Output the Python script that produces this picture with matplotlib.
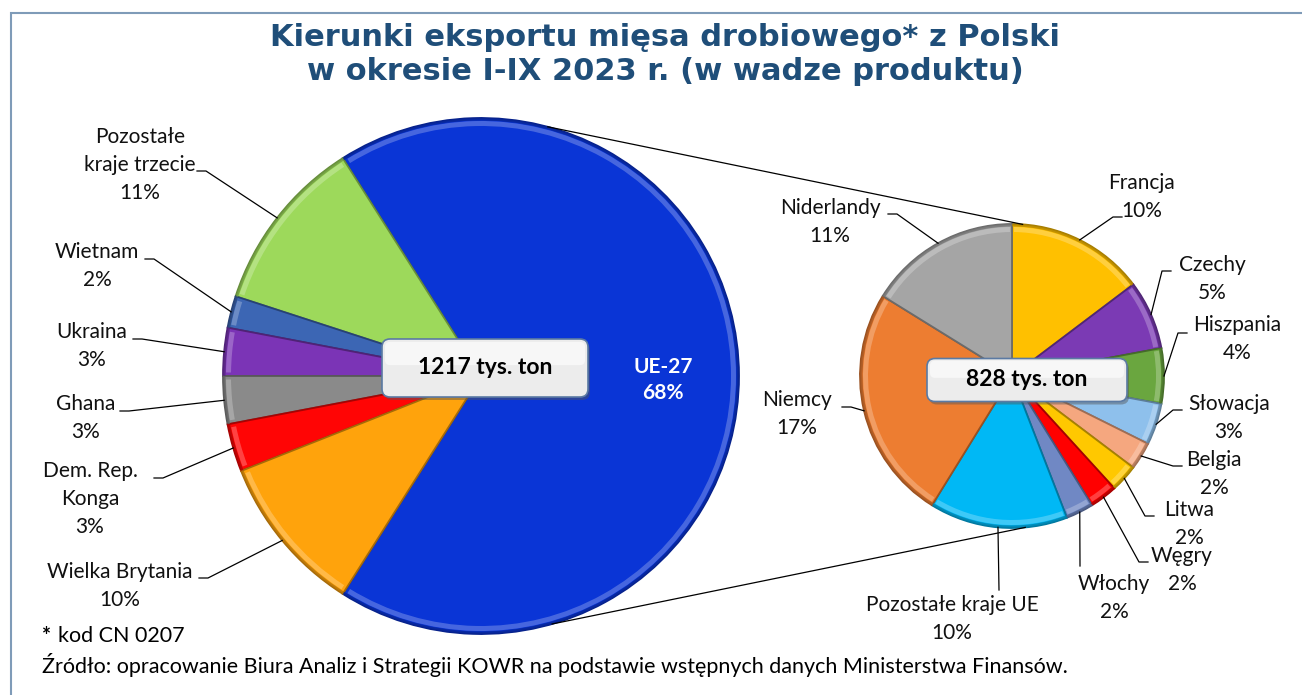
import matplotlib.pyplot as plt
import matplotlib.colors as mcolors
from matplotlib.patches import FancyBboxPatch, Wedge, Rectangle
import numpy as np

W, H = 1302, 695

# left pie - total poultry meat exports, % share
left_names = ["UE-27", "Pozostałe\nkraje trzecie", "Wietnam", "Ukraina", "Ghana",
              "Dem. Rep.\nKonga", "Wielka Brytania"]
left_vals = [68, 11, 2, 3, 3, 3, 10]
left_colors = ["#0a35d6", "#9dd95b", "#3c66b4", "#7b34b6", "#8a8a8a", "#ff0505", "#ffa30c"]
left_total = "1217 tys. ton"

# right pie - UE-27 split, % of total
right_names = ["Francja", "Czechy", "Hiszpania", "Słowacja", "Belgia", "Litwa", "Węgry",
               "Włochy", "Pozostałe kraje UE", "Niemcy", "Niderlandy"]
right_vals = [10, 5, 4, 3, 2, 2, 2, 2, 10, 17, 11]
right_colors = ["#ffc000", "#7b3ab4", "#6aa63f", "#8ec0ec", "#f5a77f", "#ffc800", "#ff0000",
                "#7088c4", "#00b8f5", "#ed7d31", "#a5a5a5"]
right_total = "828 tys. ton"

title1 = "Kierunki eksportu mięsa drobiowego* z Polski"
title2 = "w okresie I-IX 2023 r. (w wadze produktu)"
note1 = "kod CN 0207"
note2 = ("Źródło: opracowanie Biura Analiz i Strategii KOWR na podstawie wstępnych "
         "danych Ministerstwa Finansów.")

# layout (pixel coords, y from top): label centre, leader attach point, stub direction
left_layout = {
    "Pozostałe\nkraje trzecie": ((140, 165), (197, 171), 1),
    "Wietnam": ((97, 266), (145, 259), 1),
    "Ukraina": ((92, 346), (133, 339), 1),
    "Ghana": ((86, 418), (120, 411), 1),
    "Dem. Rep.\nKonga": ((90, 499), (154, 478), 1),
    "Wielka Brytania": ((120, 586), (199, 578), 1),
}
right_layout = {
    "Francja": ((1142, 197), (1122, 217), -1),
    "Czechy": ((1212, 279), (1171, 271), -1),
    "Hiszpania": ((1237, 339), (1187, 333), -1),
    "Słowacja": ((1229, 418), (1182, 410), -1),
    "Belgia": ((1214, 474), (1182, 466), -1),
    "Litwa": ((1189, 524), (1154, 516), -1),
    "Węgry": ((1182, 570), (1148, 562), -1),
    "Włochy": ((1114, 598), (1080, 566), 0),
    "Pozostałe kraje UE": ((952, 619), (999, 590), 0),
    "Niemcy": ((797, 414), (842, 407), 1),
    "Niderlandy": ((830, 222), (888, 214), 1),
}

LC, LR = (481, 376), 258
RC, RR = (1012, 376), 152

FONT = ["Lato", "DejaVu Sans"]


def P(x, y):
    return x, H - y


def mix(c, other, t):
    a = np.array(mcolors.to_rgb(c))
    b = np.array(mcolors.to_rgb(other))
    return tuple(a * (1 - t) + b * t)


fig = plt.figure(figsize=(W / 100, H / 100), dpi=100)
ax = fig.add_axes([0, 0, 1, 1])


def draw_pie(vals, colors, center, r, start, ccw):
    wedges, _ = ax.pie(vals, colors=colors, startangle=start, counterclock=ccw,
                       center=P(*center), radius=r,
                       wedgeprops=dict(edgecolor="none"))
    for w, c in zip(wedges, colors):
        w.set_edgecolor(mix(c, "black", 0.35))
        w.set_linewidth(1.3)
        # bevel-ish rim highlight
        ax.add_patch(Wedge(w.center, r - 3, w.theta1 + 0.8, w.theta2 - 0.8, width=5,
                           facecolor=mix(c, "white", 0.35), edgecolor="none", alpha=0.7))
        ax.add_patch(Wedge(w.center, r, w.theta1, w.theta2, width=2.5,
                           facecolor=mix(c, "black", 0.3), edgecolor="none", alpha=0.8))
    return wedges


def leaders(wedges, names, vals, layout, center, r):
    for w, name, v in zip(wedges, names, vals):
        if name not in layout:
            continue
        (tx, ty), (lx, ly), d = layout[name]
        mid = np.radians((w.theta1 + w.theta2) / 2)
        rx = w.center[0] + r * np.cos(mid)
        ry = w.center[1] + r * np.sin(mid)
        xs = [lx, lx + 9 * d, rx]
        ys = [H - ly, H - ly, ry]
        ax.plot(xs, ys, color="black", lw=0.9, zorder=5)
        ax.text(*P(tx, ty), f"{name}\n{v}%", ha="center", va="center", fontsize=15,
                family=FONT, linespacing=1.5, color="#111111", zorder=6)


# frame
ax.add_patch(Rectangle(P(11, 740), 1340, 727, facecolor="none", edgecolor="#7f9bb8", lw=1.5))

lw_ = draw_pie(left_vals, left_colors, LC, LR, -left_vals[0] / sum(left_vals) * 180, True)
rw_ = draw_pie(right_vals, right_colors, RC, RR, 90, False)

# connector lines between the pies
for a1, a2 in [(75, 86), (-74, -85)]:
    x1 = LC[0] + LR * np.cos(np.radians(a1))
    y1 = H - LC[1] + LR * np.sin(np.radians(a1))
    x2 = RC[0] + RR * np.cos(np.radians(a2))
    y2 = H - RC[1] + RR * np.sin(np.radians(a2))
    ax.plot([x1, x2], [y1, y2], color="black", lw=0.9, zorder=1)

leaders(lw_, left_names, left_vals, left_layout, LC, LR)
leaders(rw_, right_names, right_vals, right_layout, RC, RR)

ax.text(*P(663, 380), f"{left_names[0]}\n{left_vals[0]}%", ha="center", va="center",
        fontsize=15, weight="bold", color="white", family=FONT, linespacing=1.4, zorder=6)


def total_box(cx, cy, w, h, txt, fs):
    x0, y0 = cx - w / 2, H - cy - h / 2
    ax.add_patch(FancyBboxPatch((x0 + 2, y0 - 3), w, h, boxstyle="round,pad=0,rounding_size=8",
                                facecolor="#555555", edgecolor="none", alpha=0.45, zorder=7))
    ax.add_patch(FancyBboxPatch((x0, y0), w, h, boxstyle="round,pad=0,rounding_size=8",
                                facecolor="#ececec", edgecolor="#5b7aa3", lw=1.2, zorder=8))
    ax.add_patch(FancyBboxPatch((x0 + 3, y0 + h * 0.55), w - 6, h * 0.4,
                                boxstyle="round,pad=0,rounding_size=5",
                                facecolor="white", edgecolor="none", alpha=0.6, zorder=8))
    ax.text(cx, H - cy, txt, ha="center", va="center", fontsize=fs, weight="bold",
            family=FONT, color="black", zorder=9)


total_box(485, 368, 206, 58, left_total, 16.5)
total_box(1027, 380, 200, 43, right_total, 16.5)

# title
tkw = dict(ha="center", va="center", fontsize=22, weight="bold", color="#1f4e79",
           family="DejaVu Sans")
ax.text(*P(665, 37), title1, **tkw)
ax.text(*P(665, 72), title2, **tkw)

# notes
ax.text(*P(42, 636), "*", ha="left", va="center", fontsize=15.5, weight="bold", family=FONT)
ax.text(*P(58, 636), note1, ha="left", va="center", fontsize=15.5, family=FONT)
ax.text(*P(42, 665), note2, ha="left", va="center", fontsize=15.5, family=FONT)

ax.set_xlim(0, W)
ax.set_ylim(0, H)
ax.set_aspect("equal")
ax.axis("off")

fig.savefig("out.png", dpi=100)
